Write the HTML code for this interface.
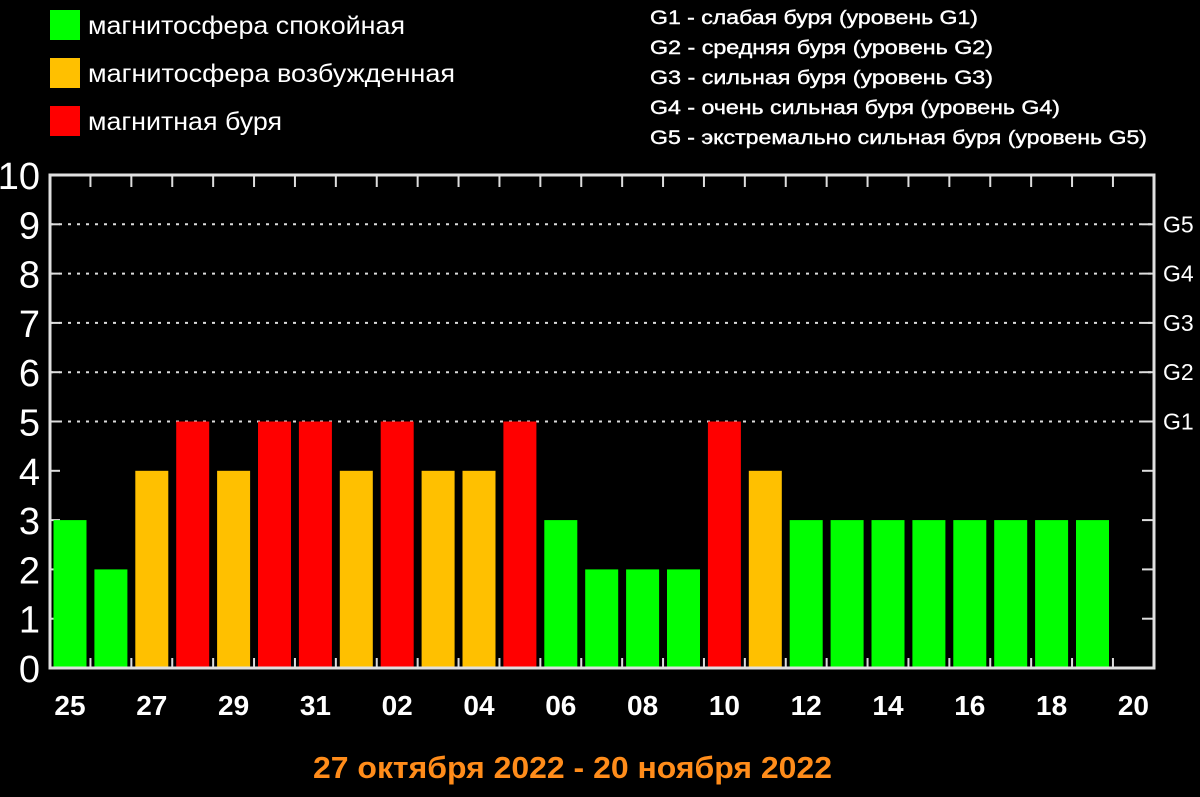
<!DOCTYPE html>
<html><head><meta charset="utf-8"><style>
body{margin:0;background:#000;width:1200px;height:797px;overflow:hidden}
svg{display:block}
text{font-family:"Liberation Sans","DejaVu Sans",sans-serif}
</style></head><body>
<svg id="c" width="1200" height="797">
<g>
<rect x="50" y="10" width="30" height="30" fill="#00ff00"/>
<text x="88" y="34" fill="#fff" font-size="25" textLength="317" lengthAdjust="spacingAndGlyphs">магнитосфера спокойная</text>
<rect x="50" y="58" width="30" height="30" fill="#ffc000"/>
<text x="88" y="82" fill="#fff" font-size="25" textLength="367" lengthAdjust="spacingAndGlyphs">магнитосфера возбужденная</text>
<rect x="50" y="106" width="30" height="30" fill="#ff0000"/>
<text x="88" y="130" fill="#fff" font-size="25" textLength="194" lengthAdjust="spacingAndGlyphs">магнитная буря</text>
</g>
<g fill="#fff" font-size="19" stroke="#fff" stroke-width="0.4">
<text x="650" y="24" textLength="328" lengthAdjust="spacingAndGlyphs">G1 - слабая буря (уровень G1)</text>
<text x="650" y="54" textLength="343" lengthAdjust="spacingAndGlyphs">G2 - средняя буря (уровень G2)</text>
<text x="650" y="84" textLength="343" lengthAdjust="spacingAndGlyphs">G3 - сильная буря (уровень G3)</text>
<text x="650" y="114" textLength="410" lengthAdjust="spacingAndGlyphs">G4 - очень сильная буря (уровень G4)</text>
<text x="650" y="144" textLength="497" lengthAdjust="spacingAndGlyphs">G5 - экстремально сильная буря (уровень G5)</text>
</g>
<g id="plot"></g>
<text x="313" y="778" fill="#ff8c1a" font-size="31" font-weight="bold" textLength="519" lengthAdjust="spacingAndGlyphs">27 октября 2022 - 20 ноября 2022</text>
</svg>
<script>
const days=["25","26","27","28","29","30","31","01","02","03","04","05","06","07","08","09","10","11","12","13","14","15","16","17","18","19"];
const kp=[3,2,4,5,4,5,5,4,5,4,4,5,3,2,2,2,5,4,3,3,3,3,3,3,3,3];
const xLabels=["25","27","29","31","02","04","06","08","10","12","14","16","18","20"];
const gLabels=["G1","G2","G3","G4","G5"];
const NS="http://www.w3.org/2000/svg";
const g=document.getElementById('plot');
const L=50,R=1154,T=175,B=668,step=40.9,c0=70;
const y=v=>B-(B-T)*v/10;
const x=i=>c0+i*step;
function mk(t,a){const e=document.createElementNS(NS,t);for(const k in a)e.setAttribute(k,a[k]);g.appendChild(e);return e;}
for(let v=0;v<=10;v++){
 const t=mk('text',{x:40,y:y(v)+14,fill:'#fff','font-size':38,'text-anchor':'end'});t.textContent=v;
 
 
 if(v>=5&&v<=9){
  const l=mk('line',{x1:L,x2:R,y1:y(v),y2:y(v),stroke:'#ddd','stroke-width':2,'stroke-dasharray':'3 6'});
  
  
  const gl=mk('text',{x:1163,y:y(v)+8,fill:'#fff','font-size':23});gl.textContent=gLabels[v-5];
  
  
 }
 if(v>0&&v<10){
  mk('line',{x1:L,x2:L+10,y1:y(v),y2:y(v),stroke:'#ddd','stroke-width':2});
  mk('line',{x1:R-12,x2:R,y1:y(v),y2:y(v),stroke:'#ddd','stroke-width':2});
 }
}
for(let i=0;i<=days.length;i++){
 const bx=x(i)-step/2;
 if(i>0){
  mk('line',{x1:bx,x2:bx,y1:T,y2:T+12,stroke:'#ddd','stroke-width':2});
  mk('line',{x1:bx,x2:bx,y1:B-10,y2:B,stroke:'#ddd','stroke-width':2});
 }
}
kp.forEach((v,i)=>{
 const col=v>=5?'#ff0000':(v==4?'#ffc000':'#00ff00');
 const r=mk('rect',{x:x(i)-16.5,y:y(v),width:33,height:B-y(v),fill:col});
 
 
});
xLabels.forEach((s,j)=>{
 const t=mk('text',{x:x(j*2),y:715,fill:'#fff','font-size':28,'font-weight':'bold','text-anchor':'middle'});t.textContent=s;
 
 
});
const f=mk('rect',{x:L,y:T,width:R-L,height:B-T,fill:'none',stroke:'#e0e0e0','stroke-width':3});


</script>
</body></html>
